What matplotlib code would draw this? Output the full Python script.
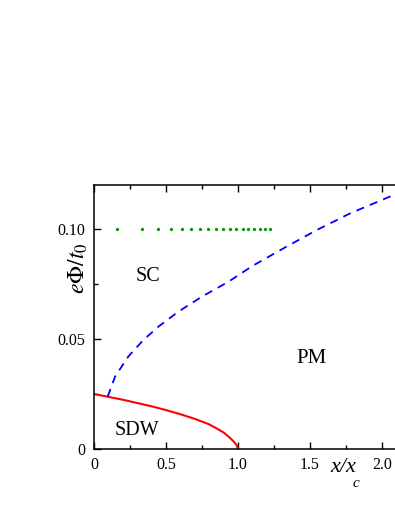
import numpy as np
import matplotlib
matplotlib.use("Agg")
import matplotlib.pyplot as plt
from matplotlib.ticker import MultipleLocator, FixedLocator, FixedFormatter

plt.rcParams["font.family"] = ["Liberation Serif", "DejaVu Serif"]
plt.rcParams["mathtext.fontset"] = "stix"

# SC boundary (green dotted markers at e*Phi/t0 = 0.10)
sc_x = [0.160, 0.335, 0.446, 0.535, 0.611, 0.676, 0.738, 0.794, 0.847,
        0.896, 0.944, 0.988, 1.033, 1.072, 1.111, 1.151, 1.188, 1.224]
sc_y = [0.10] * len(sc_x)

# SC / PM boundary (blue dashed)
pm_x = [0.095, 0.146, 0.238, 0.342, 0.447, 0.585, 0.748, 0.933, 1.100,
        1.315, 1.546, 1.778, 2.090]
pm_y = [0.0238, 0.0329, 0.0420, 0.0495, 0.0556, 0.0624, 0.0692, 0.0760,
        0.0832, 0.0912, 0.0995, 0.1071, 0.1157]

# SDW boundary (red solid)
sdw_x = [0.0, 0.1, 0.2, 0.3, 0.4, 0.5, 0.6, 0.7, 0.8, 0.85, 0.9, 0.94,
         0.97, 0.99, 1.0]
sdw_y = [0.0250, 0.0237, 0.0224, 0.0209, 0.0194, 0.0177, 0.0158, 0.0137,
         0.0112, 0.0094, 0.0075, 0.0053, 0.0034, 0.0018, 0.0]

xticks = [0, 0.5, 1.0, 1.5, 2.0]
xtick_labels = ["0", "0.5", "1.0", "1.5", "2.0"]
yticks = [0, 0.05, 0.10]
ytick_labels = ["0", "0.05", "0.10"]

W, H = 395, 511
fig = plt.figure(figsize=(W / 100, H / 100), dpi=100)
ax = fig.add_axes([94 / W, (H - 449) / H, (W - 94) / W, (449 - 185) / H])

ax.plot(sdw_x, sdw_y, color="red", lw=1.5)
ax.plot(pm_x, pm_y, color="blue", lw=1.3, dashes=(4.5, 3.5))
ax.plot(sc_x, sc_y, ls="none", marker="o", ms=2.4, color="#0b960b", mew=0)

ax.set_xlim(0, 2.09)
ax.set_ylim(0, 0.12)

ax.xaxis.set_major_locator(FixedLocator(xticks))
ax.xaxis.set_major_formatter(FixedFormatter(xtick_labels))
ax.xaxis.set_minor_locator(MultipleLocator(0.25))
ax.yaxis.set_major_locator(FixedLocator(yticks))
ax.yaxis.set_major_formatter(FixedFormatter(ytick_labels))
ax.yaxis.set_minor_locator(MultipleLocator(0.025))

ax.spines["right"].set_visible(False)
for s in ["left", "bottom", "top"]:
    ax.spines[s].set_linewidth(1.1)

ax.tick_params(which="both", direction="in", top=True, right=False,
               labelsize=11.5, width=1.0)
ax.tick_params(which="major", length=5, pad=6)
ax.tick_params(which="minor", length=3)

ax.text(0.375, 0.0786, "SC", fontsize=14.5, ha="center", va="center")
ax.text(1.51, 0.041, "PM", fontsize=15, ha="center", va="center")
ax.text(0.30, 0.0086, "SDW", fontsize=14.5, ha="center", va="center")

# x axis label sits on the tick-label row, subscript dropped below
fig.text(330 / W, 1 - 467 / H, "x/x", fontsize=16, style="italic",
         ha="left", va="center")
fig.text(353 / W, 1 - 483 / H, "c", fontsize=11, style="italic",
         ha="left", va="center")
fig.text(78 / W, 1 - 268 / H, r"$e\Phi/t_0$", fontsize=17, rotation=90,
         ha="center", va="center")

fig.savefig("out.png", dpi=100)
